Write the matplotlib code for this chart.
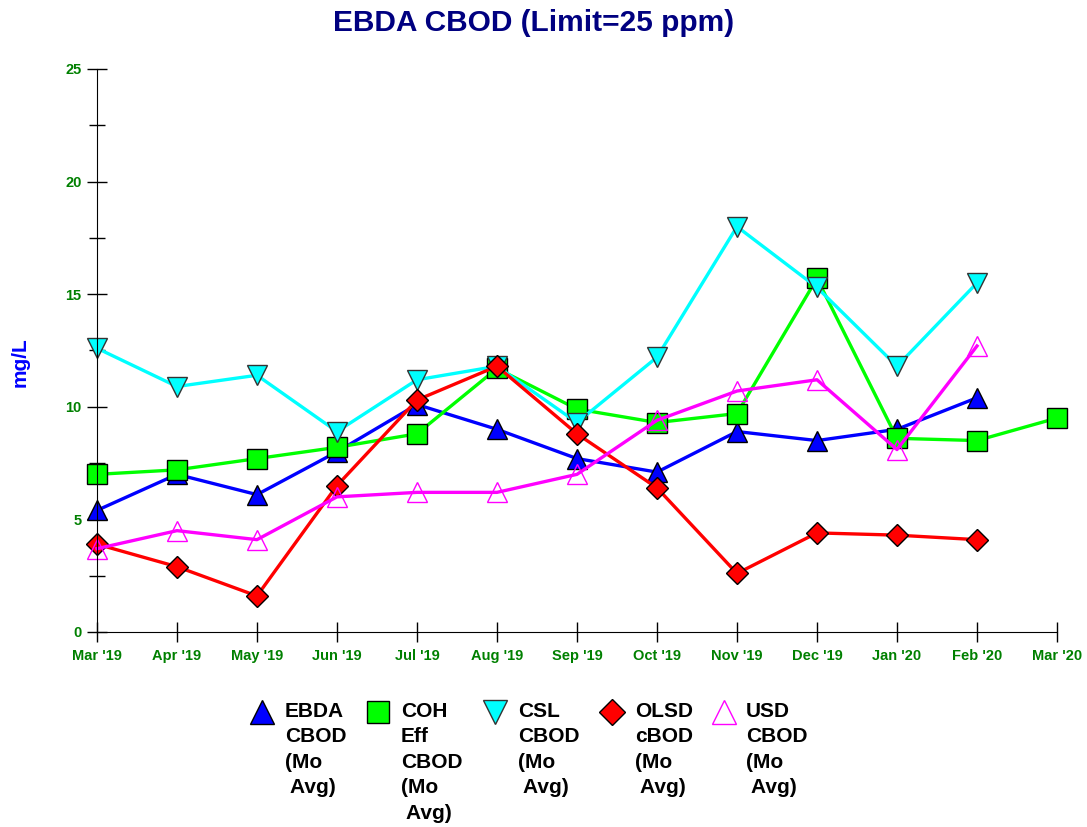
import matplotlib
matplotlib.use("Agg")
import matplotlib.pyplot as plt
from matplotlib.lines import Line2D

plt.rcParams['font.family'] = ['Liberation Sans', 'DejaVu Sans']

# months on the x axis
months = ["Mar '19", "Apr '19", "May '19", "Jun '19", "Jul '19", "Aug '19", "Sep '19",
          "Oct '19", "Nov '19", "Dec '19", "Jan '20", "Feb '20", "Mar '20"]

# monthly averages, mg/L
ebda = [5.4, 7.0, 6.1, 8.0, 10.1, 9.0, 7.7, 7.1, 8.9, 8.5, 9.0, 10.4]
coh = [7.0, 7.2, 7.7, 8.2, 8.8, 11.7, 9.9, 9.3, 9.7, 15.7, 8.6, 8.5, 9.5]
csl = [12.6, 10.9, 11.4, 8.9, 11.2, 11.8, 9.3, 12.2, 18.0, 15.3, 11.8, 15.5]
olsd = [3.9, 2.9, 1.6, 6.5, 10.3, 11.8, 8.8, 6.4, 2.6, 4.4, 4.3, 4.1]
usd = [3.7, 4.5, 4.1, 6.0, 6.2, 6.2, 7.0, 9.4, 10.7, 11.2, 8.1, 12.7]

series = [
    ("EBDA\nCBOD\n(Mo\n Avg)", ebda, "#0000ff", "^", "#0000ff", "k"),
    ("COH\nEff\nCBOD\n(Mo\n Avg)", coh, "#00ff00", "s", "#00ff00", "k"),
    ("CSL\nCBOD\n(Mo\n Avg)", csl, "#00ffff", "v", "#00ffff", "#333333"),
    ("OLSD\ncBOD\n(Mo\n Avg)", olsd, "#ff0000", "D", "#ff0000", "k"),
    ("USD\nCBOD\n(Mo\n Avg)", usd, "#ff00ff", "^", "none", "#ff00ff"),
]
sizes = {"^": 15, "s": 14, "v": 15, "D": 11}

fig = plt.figure(figsize=(10.87, 8.27), dpi=100)
ax = fig.add_axes([0.0892, 0.2358, 0.8832, 0.6808])

for label, vals, color, marker, face, edge in series:
    ax.plot(range(len(vals)), vals, color=color, lw=2.4, marker=marker,
            markersize=sizes[marker], markerfacecolor=face, markeredgecolor=edge,
            markeredgewidth=1.0, clip_on=False)

ax.set_xlim(0, 12)
ax.set_ylim(0, 25)
ax.set_xticks(range(len(months)))
ax.set_xticklabels(months)
ax.set_yticks([0, 5, 10, 15, 20, 25])
ax.set_yticks([2.5, 7.5, 12.5, 17.5, 22.5], minor=True)
ax.spines['top'].set_visible(False)
ax.spines['right'].set_visible(False)
ax.tick_params(axis='both', which='major', direction='inout', length=14, width=1,
               labelsize=10.5, labelcolor='#008000')
ax.tick_params(axis='y', which='minor', direction='inout', length=12, width=1)
ax.tick_params(axis='x', pad=5)
ax.tick_params(axis='y', pad=4)
for t in ax.get_xticklabels() + ax.get_yticklabels():
    t.set_fontweight('bold')

fig.text(20 / 1087, 1 - 362 / 827, "mg/L", rotation=90, ha='center', va='center',
         color='#0000ff', fontsize=15, fontweight='bold')
fig.text(0.491, 1 - 23 / 827, "EBDA CBOD (Limit=25 ppm)", ha='center', va='center',
         color='#000080', fontsize=21.5, fontweight='bold')

# legend below the plot, markers aligned with the first text line
legend_x = [262, 378, 495, 612, 724]
text_x = [285, 401, 518, 635, 746]
for (label, vals, color, marker, face, edge), px, tx in zip(series, legend_x, text_x):
    fig.add_artist(Line2D([px / 1087], [1 - 712 / 827], marker=marker,
                          markersize=sizes[marker] + 2,
                          markerfacecolor=face, markeredgecolor=edge,
                          markeredgewidth=1.0, linestyle='none',
                          transform=fig.transFigure))
    fig.text(tx / 1087, 1 - 702 / 827, label, ha='left', va='top',
             fontsize=15, fontweight='bold', linespacing=1.43)

fig.savefig("out.png", dpi=100)
